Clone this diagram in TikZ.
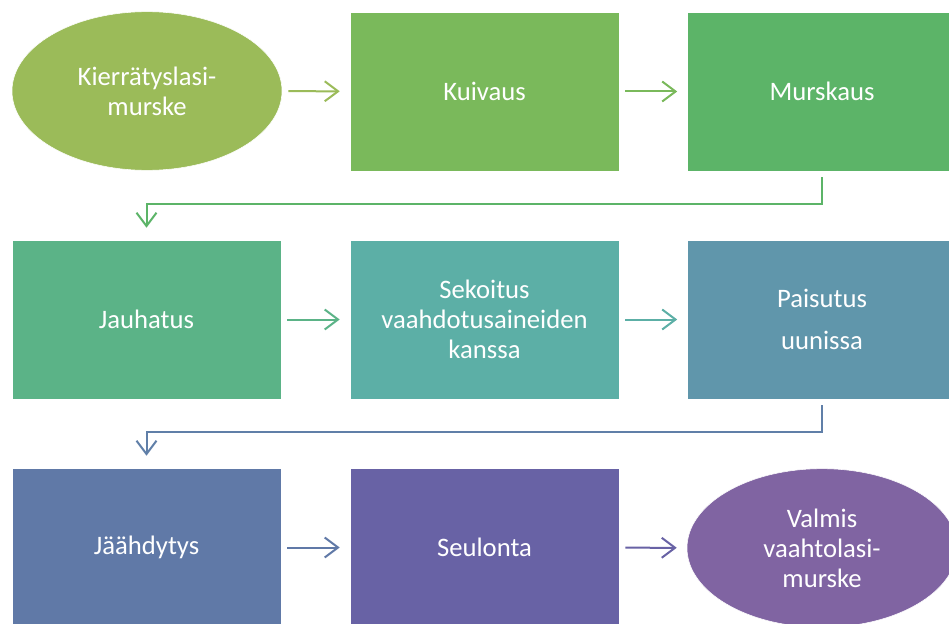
\documentclass[tikz,border=0pt]{standalone}
\usepackage{fontspec}
\setmainfont{Carlito}
\usepackage{tikz}
\usetikzlibrary{arrows.meta}
\usetikzlibrary{calc}
\usetikzlibrary{shapes.geometric}

\definecolor{cRaw}{RGB}{155,187,89}
\definecolor{cDry}{RGB}{122,185,91}
\definecolor{cCrush}{RGB}{92,180,104}
\definecolor{cGrind}{RGB}{91,179,135}
\definecolor{cMix}{RGB}{92,175,166}
\definecolor{cFoam}{RGB}{96,150,171}
\definecolor{cCool}{RGB}{96,121,167}
\definecolor{cSieve}{RGB}{104,98,165}
\definecolor{cDone}{RGB}{128,100,162}

\tikzset{
  stage/.style={rectangle, fill=#1, draw=white, line width=0.4pt,
    minimum width=201.75pt, minimum height=119.25pt, inner sep=0pt,
    text=white, align=center, font=\fontsize{20}{22.5}\selectfont},
  blob/.style={ellipse, fill=#1, draw=white, line width=0.4pt,
    minimum width=202.5pt, minimum height=119pt, inner sep=0pt,
    text=white, align=center, font=\fontsize{20}{22.5}\selectfont},
  flow/.style={draw=#1, line width=1.5pt,
    -{Straight Barb[length=10pt,width=15pt,line width=1.5pt]},
    shorten <=4.5pt, shorten >=7.5pt},
  turn/.style={draw=#1, line width=1.5pt,
    -{Straight Barb[length=10pt,width=15pt,line width=1.5pt]},
    shorten <=4.5pt, shorten >=9pt}
}

\begin{document}
\begin{tikzpicture}[x=0.75pt,y=-0.75pt]
  \clip (0,0) rectangle (949,624);
  \fill[white] (0,0) rectangle (949,624);
  % first row
  \node[blob=cRaw] (raw) at (147,91) {Kierrätyslasi-\\murske};
  \node[stage=cDry] (dry) at (484.5,91.5) {Kuivaus};
  \node[stage=cCrush] (crush) at (822,91.5) {Murskaus};
  \path [flow=cRaw] (raw) edge (dry);
  \path [flow=cDry] (dry) edge (crush);
  % second row
  \node[stage=cGrind] (grind) at (146.5,319.5) {Jauhatus};
  \node[stage=cMix] (mix) at (484.5,319.5) {Sekoitus\\vaahdotusaineiden\\kanssa};
  \node[stage=cFoam] (foam) at (822,319.5) {Paisutus\\[9pt]uunissa};
  \path [flow=cGrind] (grind) edge (mix);
  \path [flow=cMix] (mix) edge (foam);
  % third row
  \node[stage=cCool] (cool) at (146.5,547.5) {Jäähdytys};
  \node[stage=cSieve] (sieve) at (484.5,547.5) {Seulonta};
  \node[blob=cDone] (done) at (822,548) {Valmis\\vaahtolasi-\\murske};
  \path [flow=cCool] (cool) edge (sieve);
  \path [flow=cSieve] (sieve) edge (done);
  % row changes
  \draw [turn=cCrush] (crush.south) -- ++(0,33) -| (grind.north);
  \draw [turn=cCool!80!cFoam] (foam.south) -- ++(0,33) -| (cool.north);
\end{tikzpicture}
\end{document}
